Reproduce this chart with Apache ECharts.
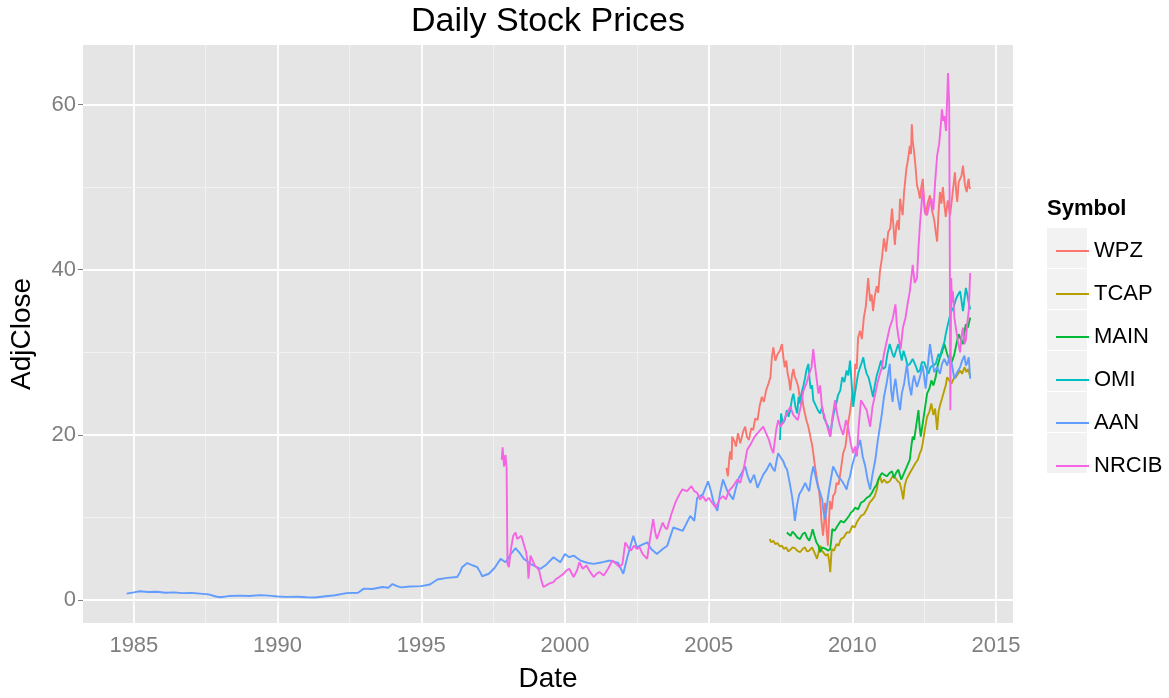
<!DOCTYPE html>
<html>
<head>
<meta charset="utf-8">
<script src="https://cdn.jsdelivr.net/npm/echarts@6/dist/echarts.min.js"></script>
<style>
  html, body { margin: 0; padding: 0; background: #fff; }
  #chart { width: 1169px; height: 698px; }
</style>
</head>
<body>
<div id="chart"></div>
<script>
// 数据: [年份(小数), AdjClose]
var symbols = ['WPZ', 'TCAP', 'MAIN', 'OMI', 'AAN', 'NRCIB'];
var colors = ['#F8766D', '#B79F00', '#00BA38', '#00BFC4', '#619CFF', '#F564E3'];
var xTicks = [1985, 1990, 1995, 2000, 2005, 2010, 2015];
var yTicks = [0, 20, 40, 60];

var WPZ = [
    [2005.62, 16.0], [2005.67, 15.0], [2005.72, 17.2], [2005.75, 18.0], [2005.8, 17.0], [2005.82, 19.8],
    [2005.9, 19.2], [2005.95, 18.6], [2006.02, 20.2], [2006.1, 19.0], [2006.2, 20.4], [2006.27, 21.0],
    [2006.33, 19.8], [2006.4, 19.4], [2006.48, 20.8], [2006.55, 20.6], [2006.62, 22.0], [2006.7, 21.8],
    [2006.78, 23.6], [2006.85, 24.6], [2006.92, 24.0], [2007.0, 25.4], [2007.08, 26.2], [2007.15, 27.0],
    [2007.2, 29.4], [2007.25, 30.6], [2007.32, 29.0], [2007.4, 29.8], [2007.48, 30.2], [2007.55, 31.0],
    [2007.6, 29.4], [2007.65, 28.2], [2007.7, 29.0], [2007.75, 27.4], [2007.8, 26.6], [2007.84, 25.4],
    [2007.9, 27.2], [2007.95, 28.0], [2008.0, 27.0], [2008.05, 26.6], [2008.12, 25.8], [2008.18, 24.2],
    [2008.24, 25.0], [2008.3, 23.4], [2008.35, 22.6], [2008.4, 21.8], [2008.47, 21.0], [2008.55, 19.6],
    [2008.6, 18.8], [2008.64, 17.8], [2008.7, 16.2], [2008.77, 14.6], [2008.85, 13.0], [2008.9, 11.2],
    [2008.92, 9.8], [2008.98, 7.8], [2009.02, 9.4], [2009.05, 11.8], [2009.1, 8.6], [2009.15, 6.6],
    [2009.18, 9.0], [2009.22, 12.0], [2009.28, 11.0], [2009.33, 12.6], [2009.4, 13.0], [2009.45, 14.2],
    [2009.52, 14.0], [2009.6, 15.8], [2009.68, 17.8], [2009.76, 18.6], [2009.85, 21.4], [2009.92, 22.8],
    [2010.0, 25.0], [2010.05, 24.2], [2010.1, 28.6], [2010.15, 28.0], [2010.2, 31.8], [2010.27, 32.6],
    [2010.33, 31.6], [2010.4, 34.2], [2010.47, 35.6], [2010.55, 39.0], [2010.62, 36.2], [2010.67, 37.0],
    [2010.72, 35.0], [2010.78, 36.8], [2010.85, 38.0], [2010.9, 37.2], [2010.96, 39.8], [2011.03, 41.4],
    [2011.1, 43.8], [2011.17, 42.2], [2011.25, 44.6], [2011.32, 45.0], [2011.38, 47.4], [2011.43, 45.2],
    [2011.48, 43.0], [2011.53, 45.4], [2011.58, 46.0], [2011.62, 44.8], [2011.66, 48.6], [2011.7, 47.6],
    [2011.75, 46.6], [2011.8, 49.4], [2011.88, 52.2], [2011.94, 53.4], [2012.0, 55.0], [2012.04, 54.0],
    [2012.07, 57.6], [2012.1, 55.6], [2012.15, 54.2], [2012.2, 52.4], [2012.25, 50.2], [2012.3, 49.6],
    [2012.35, 48.6], [2012.4, 50.0], [2012.45, 51.0], [2012.5, 48.2], [2012.55, 46.6], [2012.62, 48.0],
    [2012.7, 49.0], [2012.77, 47.2], [2012.85, 46.0], [2012.9, 44.6], [2012.95, 43.4], [2013.0, 47.0],
    [2013.05, 49.4], [2013.1, 48.0], [2013.15, 50.0], [2013.2, 48.0], [2013.25, 46.4], [2013.32, 48.4],
    [2013.4, 46.6], [2013.48, 49.0], [2013.57, 51.8], [2013.61, 49.6], [2013.65, 48.2], [2013.7, 50.6],
    [2013.75, 50.4], [2013.8, 51.4], [2013.85, 52.6], [2013.92, 50.2], [2013.98, 49.4], [2014.02, 50.6],
    [2014.05, 51.0], [2014.08, 49.8], [2014.1, 50.0]
];

var TCAP = [
    [2007.12, 7.4], [2007.18, 7.0], [2007.25, 7.2], [2007.32, 6.8], [2007.4, 6.9], [2007.48, 6.5],
    [2007.55, 6.6], [2007.62, 6.2], [2007.7, 6.4], [2007.77, 5.9], [2007.84, 6.1], [2007.92, 6.4],
    [2008.0, 6.3], [2008.08, 6.0], [2008.18, 5.8], [2008.27, 6.2], [2008.35, 6.4], [2008.42, 5.9],
    [2008.5, 6.0], [2008.6, 6.4], [2008.7, 5.6], [2008.77, 5.0], [2008.83, 5.9], [2008.88, 6.6],
    [2008.94, 6.0], [2009.0, 6.2], [2009.08, 5.4], [2009.15, 5.6], [2009.2, 4.6], [2009.23, 3.4],
    [2009.28, 6.2], [2009.36, 6.0], [2009.45, 6.8], [2009.52, 6.6], [2009.6, 7.4], [2009.7, 7.6],
    [2009.8, 8.2], [2009.9, 8.2], [2010.0, 9.0], [2010.08, 8.8], [2010.15, 9.4], [2010.22, 9.8],
    [2010.3, 10.2], [2010.4, 10.4], [2010.5, 11.0], [2010.6, 11.8], [2010.7, 12.2], [2010.78, 12.6],
    [2010.85, 13.4], [2010.9, 14.4], [2010.96, 15.0], [2011.03, 14.2], [2011.1, 14.6], [2011.2, 14.2],
    [2011.3, 14.4], [2011.4, 15.0], [2011.5, 14.8], [2011.58, 14.4], [2011.65, 14.2], [2011.72, 13.2],
    [2011.77, 12.2], [2011.82, 13.8], [2011.88, 14.6], [2011.94, 15.0], [2012.0, 15.4], [2012.1, 16.0],
    [2012.2, 16.6], [2012.28, 17.0], [2012.35, 17.8], [2012.4, 18.2], [2012.45, 19.0], [2012.52, 20.6],
    [2012.6, 22.2], [2012.68, 22.8], [2012.75, 23.8], [2012.82, 22.4], [2012.88, 23.2], [2012.95, 20.6],
    [2013.0, 22.8], [2013.05, 23.6], [2013.12, 24.4], [2013.2, 25.4], [2013.25, 26.0], [2013.3, 27.0],
    [2013.37, 26.6], [2013.45, 26.2], [2013.52, 26.8], [2013.6, 27.0], [2013.68, 27.4], [2013.75, 27.8],
    [2013.82, 27.4], [2013.9, 28.2], [2013.97, 27.6], [2014.03, 28.0], [2014.1, 27.0]
];

var MAIN = [
    [2007.72, 8.2], [2007.78, 8.0], [2007.85, 7.8], [2007.92, 8.3], [2008.0, 8.0], [2008.08, 7.6],
    [2008.18, 7.4], [2008.27, 8.0], [2008.35, 8.2], [2008.42, 7.6], [2008.5, 7.2], [2008.56, 7.8],
    [2008.62, 8.6], [2008.68, 7.8], [2008.75, 7.0], [2008.82, 6.6], [2008.88, 5.8], [2008.94, 6.4],
    [2009.0, 6.6], [2009.08, 6.2], [2009.15, 6.0], [2009.23, 6.2], [2009.27, 7.4], [2009.3, 8.6],
    [2009.38, 8.4], [2009.45, 8.8], [2009.52, 9.2], [2009.6, 9.6], [2009.7, 9.4], [2009.8, 9.8],
    [2009.88, 10.2], [2009.95, 10.6], [2010.02, 10.8], [2010.1, 11.2], [2010.2, 11.0], [2010.3, 11.8],
    [2010.4, 12.0], [2010.5, 12.4], [2010.6, 12.6], [2010.68, 13.0], [2010.77, 13.6], [2010.85, 14.0],
    [2010.9, 14.6], [2010.96, 15.0], [2011.03, 15.4], [2011.1, 15.2], [2011.2, 15.0], [2011.3, 15.4],
    [2011.38, 15.6], [2011.45, 14.8], [2011.52, 15.4], [2011.6, 15.8], [2011.65, 15.2], [2011.7, 14.6],
    [2011.75, 15.0], [2011.8, 15.2], [2011.9, 16.2], [2011.95, 16.0], [2012.0, 17.0], [2012.05, 18.6],
    [2012.1, 19.8], [2012.15, 19.4], [2012.2, 20.6], [2012.25, 21.8], [2012.3, 23.0], [2012.34, 21.0],
    [2012.38, 19.8], [2012.44, 21.2], [2012.5, 22.6], [2012.55, 23.8], [2012.6, 25.0], [2012.68, 25.6],
    [2012.75, 26.6], [2012.82, 26.0], [2012.9, 27.0], [2012.97, 28.4], [2013.05, 29.4], [2013.12, 30.0],
    [2013.2, 31.0], [2013.25, 30.4], [2013.3, 29.8], [2013.36, 29.2], [2013.42, 28.6], [2013.48, 29.0],
    [2013.55, 29.8], [2013.62, 31.0], [2013.7, 32.2], [2013.77, 31.6], [2013.85, 31.0], [2013.9, 32.4],
    [2013.95, 33.4], [2014.02, 33.0], [2014.1, 34.2]
];

var OMI = [
    [2007.48, 19.4], [2007.52, 22.6], [2007.58, 21.4], [2007.65, 21.8], [2007.72, 23.0], [2007.78, 22.2],
    [2007.84, 23.0], [2007.9, 24.4], [2007.95, 25.0], [2008.02, 23.4], [2008.08, 22.6], [2008.13, 24.6],
    [2008.18, 23.8], [2008.24, 25.2], [2008.3, 26.0], [2008.35, 26.8], [2008.4, 27.8], [2008.47, 28.6],
    [2008.51, 26.8], [2008.55, 25.6], [2008.6, 26.0], [2008.64, 24.2], [2008.72, 23.6], [2008.8, 23.0],
    [2008.88, 22.6], [2008.95, 23.4], [2009.02, 22.0], [2009.1, 21.4], [2009.16, 21.0], [2009.23, 19.8],
    [2009.3, 21.6], [2009.35, 22.6], [2009.42, 23.4], [2009.5, 24.8], [2009.58, 25.4], [2009.65, 27.0],
    [2009.72, 26.4], [2009.8, 27.8], [2009.86, 27.2], [2009.92, 29.0], [2009.98, 26.0], [2010.03, 23.4],
    [2010.09, 25.0], [2010.15, 26.4], [2010.2, 27.4], [2010.27, 28.2], [2010.33, 28.8], [2010.38, 29.4],
    [2010.44, 28.2], [2010.5, 27.4], [2010.56, 27.0], [2010.62, 26.2], [2010.67, 25.4], [2010.72, 24.6],
    [2010.78, 26.0], [2010.85, 27.2], [2010.92, 28.0], [2011.0, 29.0], [2011.07, 28.0], [2011.15, 28.2],
    [2011.22, 29.8], [2011.3, 31.0], [2011.38, 30.0], [2011.45, 29.4], [2011.52, 30.2], [2011.6, 31.0],
    [2011.66, 30.0], [2011.72, 29.0], [2011.78, 30.2], [2011.85, 29.4], [2011.92, 28.4], [2012.0, 28.6],
    [2012.1, 29.2], [2012.2, 28.4], [2012.28, 27.6], [2012.35, 27.8], [2012.42, 28.8], [2012.5, 28.8],
    [2012.58, 28.0], [2012.65, 27.4], [2012.72, 28.2], [2012.8, 28.4], [2012.9, 28.6], [2013.0, 29.8],
    [2013.05, 29.4], [2013.12, 30.4], [2013.2, 31.2], [2013.25, 32.2], [2013.3, 33.0], [2013.38, 34.2],
    [2013.45, 35.0], [2013.52, 35.4], [2013.6, 36.4], [2013.68, 37.0], [2013.75, 37.4], [2013.8, 36.2],
    [2013.85, 35.0], [2013.9, 36.4], [2013.95, 37.8], [2014.0, 37.0], [2014.05, 36.0], [2014.1, 35.2]
];

var AAN = [
    [1984.75, 0.8], [1985.0, 0.95], [1985.2, 1.08], [1985.5, 1.0], [1985.8, 1.02], [1986.1, 0.9],
    [1986.4, 0.95], [1986.7, 0.85], [1987.0, 0.88], [1987.3, 0.8], [1987.6, 0.7], [1987.85, 0.45],
    [1988.0, 0.35], [1988.3, 0.5], [1988.7, 0.55], [1989.0, 0.5], [1989.4, 0.62], [1989.7, 0.55],
    [1990.0, 0.45], [1990.3, 0.4], [1990.7, 0.42], [1991.0, 0.35], [1991.3, 0.32], [1991.6, 0.45],
    [1992.0, 0.6], [1992.4, 0.85], [1992.8, 0.9], [1993.0, 1.4], [1993.3, 1.35], [1993.65, 1.6],
    [1993.85, 1.5], [1994.0, 1.95], [1994.15, 1.7], [1994.3, 1.55], [1994.6, 1.65], [1995.0, 1.7],
    [1995.3, 1.9], [1995.56, 2.5], [1995.9, 2.7], [1996.25, 2.8], [1996.35, 3.4], [1996.42, 4.0],
    [1996.6, 4.5], [1996.8, 4.2], [1996.95, 4.0], [1997.05, 3.4], [1997.12, 2.9], [1997.35, 3.2],
    [1997.55, 3.9], [1997.76, 5.0], [1997.93, 4.6], [1998.1, 5.5], [1998.28, 6.3], [1998.45, 5.6],
    [1998.57, 5.0], [1998.73, 4.6], [1998.9, 4.2], [1999.15, 3.8], [1999.35, 4.3], [1999.6, 5.2],
    [1999.84, 4.6], [2000.0, 5.6], [2000.15, 5.2], [2000.3, 5.4], [2000.54, 4.8], [2000.8, 4.5],
    [2001.0, 4.4], [2001.3, 4.6], [2001.58, 4.8], [2001.85, 4.5], [2002.03, 3.2], [2002.17, 5.2],
    [2002.38, 7.8], [2002.5, 6.4], [2002.62, 6.6], [2002.86, 7.0], [2003.0, 6.2], [2003.2, 5.6],
    [2003.4, 6.2], [2003.56, 6.6], [2003.77, 8.8], [2004.1, 8.4], [2004.36, 10.2], [2004.5, 9.6],
    [2004.6, 12.4], [2004.8, 12.8], [2004.98, 14.4], [2005.08, 13.2], [2005.16, 12.0], [2005.3, 10.8],
    [2005.4, 13.0], [2005.5, 14.6], [2005.65, 13.2], [2005.85, 12.2], [2005.95, 13.6], [2006.05, 14.8],
    [2006.15, 15.4], [2006.27, 16.2], [2006.36, 15.0], [2006.45, 14.2], [2006.58, 15.2], [2006.7, 13.6],
    [2006.8, 14.4], [2006.9, 15.2], [2007.02, 15.8], [2007.14, 16.6], [2007.22, 16.0], [2007.3, 15.6],
    [2007.36, 16.8], [2007.42, 17.8], [2007.52, 17.2], [2007.6, 16.8], [2007.66, 16.2], [2007.73, 15.8],
    [2007.82, 14.2], [2007.9, 12.6], [2007.96, 11.0], [2008.0, 9.6], [2008.08, 11.6], [2008.15, 12.8],
    [2008.25, 13.4], [2008.36, 14.2], [2008.43, 13.6], [2008.5, 13.2], [2008.57, 15.0], [2008.64, 16.2],
    [2008.72, 15.0], [2008.8, 13.8], [2008.88, 13.0], [2008.95, 12.2], [2009.0, 10.6], [2009.05, 9.8],
    [2009.1, 11.0], [2009.15, 12.4], [2009.2, 13.6], [2009.27, 15.0], [2009.33, 16.2], [2009.42, 15.6],
    [2009.5, 15.0], [2009.6, 14.6], [2009.68, 14.2], [2009.74, 13.8], [2009.8, 13.4], [2009.86, 14.4],
    [2009.92, 15.0], [2010.0, 16.4], [2010.1, 17.6], [2010.18, 18.4], [2010.27, 19.4], [2010.36, 17.4],
    [2010.45, 16.2], [2010.53, 14.6], [2010.62, 13.4], [2010.7, 15.2], [2010.8, 17.0], [2010.88, 19.2],
    [2010.96, 21.0], [2011.03, 22.6], [2011.1, 24.6], [2011.2, 26.4], [2011.3, 28.6], [2011.35, 25.4],
    [2011.4, 24.0], [2011.45, 25.8], [2011.5, 26.8], [2011.58, 24.6], [2011.66, 23.0], [2011.72, 25.0],
    [2011.8, 26.2], [2011.85, 27.4], [2011.9, 28.6], [2011.97, 26.2], [2012.05, 24.8], [2012.1, 26.4],
    [2012.15, 27.2], [2012.2, 26.4], [2012.25, 25.8], [2012.35, 27.0], [2012.45, 28.4], [2012.5, 27.0],
    [2012.55, 25.6], [2012.62, 28.2], [2012.7, 31.0], [2012.77, 29.4], [2012.85, 27.6], [2012.95, 28.2],
    [2013.05, 27.4], [2013.12, 28.6], [2013.2, 29.2], [2013.3, 28.4], [2013.4, 29.8], [2013.48, 28.2],
    [2013.55, 26.8], [2013.65, 27.6], [2013.75, 28.2], [2013.82, 29.0], [2013.9, 29.6], [2013.95, 28.4],
    [2014.0, 28.8], [2014.05, 29.4], [2014.1, 26.8]
];

var NRCIB = [
    [1997.8, 17.0], [1997.83, 18.5], [1997.88, 16.2], [1997.93, 17.6], [1997.97, 16.0], [1998.0, 4.4],
    [1998.05, 4.0], [1998.12, 6.2], [1998.2, 7.8], [1998.28, 8.2], [1998.34, 7.4], [1998.4, 7.6],
    [1998.48, 7.8], [1998.55, 7.0], [1998.65, 5.8], [1998.7, 4.6], [1998.73, 2.6], [1998.8, 5.4],
    [1998.88, 4.8], [1998.95, 4.2], [1999.02, 4.0], [1999.1, 3.6], [1999.18, 2.4], [1999.25, 1.6],
    [1999.35, 1.8], [1999.45, 2.0], [1999.6, 2.2], [1999.7, 2.6], [1999.8, 2.8], [1999.95, 3.2],
    [2000.05, 3.6], [2000.15, 3.8], [2000.3, 2.8], [2000.42, 3.6], [2000.5, 4.6], [2000.62, 3.8],
    [2000.75, 4.2], [2000.88, 3.4], [2001.0, 2.8], [2001.1, 3.2], [2001.2, 3.4], [2001.35, 3.0],
    [2001.5, 3.8], [2001.65, 4.8], [2001.78, 4.4], [2001.9, 4.0], [2002.0, 4.4], [2002.1, 7.0],
    [2002.2, 6.4], [2002.3, 6.0], [2002.4, 6.6], [2002.5, 6.2], [2002.6, 6.4], [2002.7, 5.6],
    [2002.86, 5.0], [2002.95, 7.2], [2003.07, 9.8], [2003.14, 8.2], [2003.2, 7.4], [2003.3, 8.4],
    [2003.4, 9.4], [2003.48, 8.8], [2003.55, 8.6], [2003.7, 10.4], [2003.84, 11.8], [2003.95, 12.6],
    [2004.08, 13.4], [2004.25, 13.2], [2004.4, 13.8], [2004.5, 13.2], [2004.6, 13.0], [2004.7, 12.2],
    [2004.8, 12.6], [2004.9, 12.0], [2005.0, 12.4], [2005.12, 11.8], [2005.25, 11.2], [2005.38, 12.2],
    [2005.5, 12.6], [2005.6, 12.2], [2005.7, 13.2], [2005.85, 13.8], [2006.0, 14.6], [2006.1, 14.2],
    [2006.2, 15.6], [2006.28, 17.0], [2006.34, 18.2], [2006.45, 18.8], [2006.6, 19.8], [2006.75, 20.4],
    [2006.9, 21.0], [2007.0, 20.2], [2007.1, 19.4], [2007.18, 18.4], [2007.25, 17.8], [2007.35, 20.6],
    [2007.42, 21.8], [2007.5, 21.0], [2007.6, 21.6], [2007.72, 22.6], [2007.84, 23.4], [2007.95, 22.4],
    [2008.1, 21.8], [2008.2, 23.4], [2008.3, 25.4], [2008.4, 26.2], [2008.5, 27.4], [2008.58, 28.2],
    [2008.64, 30.4], [2008.7, 28.4], [2008.75, 27.0], [2008.82, 25.0], [2008.88, 26.0], [2008.95, 23.0],
    [2009.02, 22.4], [2009.1, 21.4], [2009.16, 20.6], [2009.23, 19.8], [2009.3, 22.0], [2009.4, 24.2],
    [2009.48, 22.4], [2009.56, 21.2], [2009.68, 20.0], [2009.78, 21.8], [2009.85, 21.0], [2009.94, 19.0],
    [2010.03, 17.8], [2010.1, 18.6], [2010.16, 17.4], [2010.22, 21.0], [2010.3, 24.2], [2010.4, 23.6],
    [2010.5, 23.0], [2010.56, 22.0], [2010.62, 21.0], [2010.7, 23.4], [2010.8, 25.0], [2010.88, 26.4],
    [2010.96, 27.4], [2011.03, 28.2], [2011.1, 29.8], [2011.2, 31.4], [2011.3, 33.0], [2011.4, 34.0],
    [2011.5, 35.8], [2011.55, 33.2], [2011.6, 32.0], [2011.68, 30.4], [2011.76, 33.0], [2011.85, 34.2],
    [2011.92, 35.8], [2012.0, 37.4], [2012.05, 39.0], [2012.1, 40.6], [2012.17, 38.4], [2012.25, 39.0],
    [2012.3, 42.6], [2012.35, 45.4], [2012.4, 47.6], [2012.45, 49.8], [2012.52, 47.0], [2012.6, 46.6],
    [2012.68, 48.0], [2012.75, 48.6], [2012.82, 47.2], [2012.88, 50.6], [2012.95, 53.8], [2013.02, 55.2],
    [2013.08, 57.6], [2013.12, 59.4], [2013.16, 58.0], [2013.2, 58.6], [2013.26, 56.8], [2013.3, 57.0],
    [2013.33, 63.8], [2013.37, 60.2], [2013.39, 43.0], [2013.41, 23.0], [2013.44, 39.0], [2013.47, 36.0],
    [2013.5, 37.4], [2013.55, 34.2], [2013.6, 33.0], [2013.68, 31.2], [2013.75, 30.0], [2013.8, 32.0],
    [2013.85, 33.0], [2013.9, 31.0], [2013.95, 31.5], [2014.0, 33.6], [2014.05, 35.0], [2014.1, 39.6]
];

(function () {
    var myCharts = echarts.init(document.getElementById('chart'), null, { renderer: 'canvas' });
    var seriesData = [WPZ, TCAP, MAIN, OMI, AAN, NRCIB];
    var font = '"Liberation Sans", Arial, sans-serif';

    // 网格线: 主网格 + 次网格 (ggplot 风格)
    var gridLines = [];
    var i;
    for (i = 0; i < xTicks.length; i++) {
        gridLines.push({ xAxis: xTicks[i], lineStyle: { color: '#ffffff', width: 1.8 } });
        if (i > 0) gridLines.push({ xAxis: (xTicks[i] + xTicks[i - 1]) / 2, lineStyle: { color: '#F2F2F2', width: 0.9 } });
    }
    for (i = 0; i < yTicks.length; i++) {
        gridLines.push({ yAxis: yTicks[i], lineStyle: { color: '#ffffff', width: 1.8 } });
        if (i > 0) gridLines.push({ yAxis: (yTicks[i] + yTicks[i - 1]) / 2, lineStyle: { color: '#F2F2F2', width: 0.9 } });
    }

    var series = [{
        name: 'grid',
        type: 'line',
        data: [],
        z: 1,
        silent: true,
        markLine: {
            z: 1,
            symbol: 'none',
            silent: true,
            animation: false,
            label: { show: false },
            lineStyle: { type: 'solid' },
            emphasis: { disabled: true },
            data: gridLines
        }
    }];
    for (i = 0; i < symbols.length; i++) {
        series.push({
            name: symbols[i],
            type: 'line',
            data: seriesData[i],
            showSymbol: false,
            symbol: 'none',
            z: 3,
            color: colors[i],
            lineStyle: { width: 1.9, color: colors[i] }
        });
    }

    var graphics = [{
        type: 'text',
        left: 1047,
        top: 198,
        style: { text: 'Symbol', font: 'bold 22px ' + font, fill: '#000' }
    }];
    for (i = 0; i < symbols.length; i++) {
        graphics.push({
            type: 'rect',
            z: 0,
            shape: { x: 1047, y: 228 + i * 41, width: 40, height: 40 },
            style: { fill: '#F2F2F2' }
        });
    }

    var fmt = function (v) { return String(v); };

    var option = {
        animation: false,
        backgroundColor: '#ffffff',
        title: {
            text: 'Daily Stock Prices',
            left: 548,
            top: 5,
            padding: 0,
            textAlign: 'center',
            textStyle: { fontFamily: font, fontSize: 34, fontWeight: 'normal', color: '#000' }
        },
        grid: {
            left: 82,
            top: 45,
            right: 156,
            bottom: 70,
            show: true,
            backgroundColor: '#E5E5E5',
            borderWidth: 0,
            containLabel: false
        },
        legend: {
            orient: 'vertical',
            left: 1051,
            top: 235,
            data: symbols,
            icon: 'rect',
            itemWidth: 33,
            itemHeight: 2,
            itemGap: 21,
            selectedMode: false,
            textStyle: { fontFamily: font, fontSize: 22, color: '#000', lineHeight: 20 }
        },
        xAxis: {
            type: 'value',
            min: 1983.23,
            max: 2015.59,
            name: 'Date',
            nameLocation: 'middle',
            nameGap: 42,
            nameTextStyle: { fontFamily: font, fontSize: 28, color: '#000' },
            axisLine: { show: false },
            axisTick: { show: true, length: 5, customValues: xTicks, lineStyle: { color: '#7F7F7F' } },
            axisLabel: { customValues: xTicks, formatter: fmt, margin: 12, fontFamily: font, fontSize: 22, color: '#7F7F7F' },
            splitLine: { show: false }
        },
        yAxis: {
            type: 'value',
            min: -2.76,
            max: 67.2,
            name: 'AdjClose',
            nameLocation: 'middle',
            nameGap: 47,
            nameTextStyle: { fontFamily: font, fontSize: 28, color: '#000' },
            axisLine: { show: false },
            axisTick: { show: true, length: 5, customValues: yTicks, lineStyle: { color: '#7F7F7F' } },
            axisLabel: { customValues: yTicks, formatter: fmt, margin: 7, fontFamily: font, fontSize: 22, color: '#7F7F7F' },
            splitLine: { show: false }
        },
        graphic: graphics,
        series: series
    };

    myCharts.setOption(option);
})();
</script>
</body>
</html>
